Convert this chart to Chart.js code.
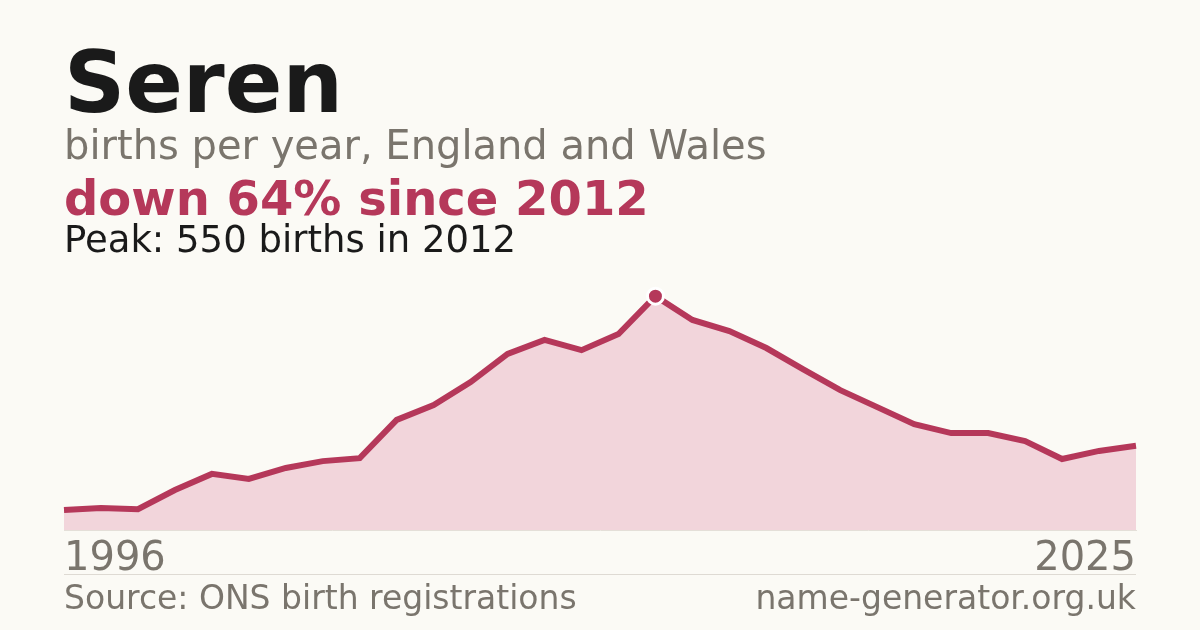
<!DOCTYPE html>
<html lang="en">
<head>
    <meta charset="UTF-8">
    <title>Seren - births per year</title>
    <script src="https://cdn.jsdelivr.net/npm/chart.js@4.4.0/dist/chart.umd.min.js"></script>
    <style>
        html, body { margin: 0; padding: 0; }
        body {
            width: 1200px; height: 630px; position: relative; overflow: hidden;
            background: #fbfaf5; font-family: "DejaVu Sans", sans-serif;
        }
        .txt { position: absolute; left: 64px; line-height: 1; white-space: nowrap; }
        #title { top: 40px; font-size: 85px; font-weight: bold; color: #1a1a1a; }
        #sub { top: 125px; font-size: 40px; color: #7a756d; }
        #change { top: 174px; font-size: 48px; font-weight: bold; color: #b5385a; }
        #peak { top: 221px; font-size: 37px; color: #1a1a1a; }
        .year { top: 536px; font-size: 40px; color: #7a756d; }
        #yEnd, #site { left: auto; right: 64px; }
        .foot { top: 581px; font-size: 33px; color: #7a756d; }
        #rule { position: absolute; left: 64px; width: 1072px; top: 574px; height: 1px; background: #dedad3; }
        #chartBox { position: absolute; left: 0; top: 0; width: 1200px; height: 630px; }
    </style>
</head>
<body>
    <div id="chartBox"><canvas id="birthChart"></canvas></div>
    <div class="txt" id="title">Seren</div>
    <div class="txt" id="sub">births per year, England and Wales</div>
    <div class="txt" id="change">down 64% since 2012</div>
    <div class="txt" id="peak">Peak: 550 births in 2012</div>
    <div class="txt year" id="yStart">1996</div>
    <div class="txt year" id="yEnd">2025</div>
    <div id="rule"></div>
    <div class="txt foot" id="source">Source: ONS birth registrations</div>
    <div class="txt foot" id="site">name-generator.org.uk</div>

    <script>
        // Births per year
        const years = [1996, 1997, 1998, 1999, 2000, 2001, 2002, 2003, 2004, 2005,
                       2006, 2007, 2008, 2009, 2010, 2011, 2012, 2013, 2014, 2015,
                       2016, 2017, 2018, 2019, 2020, 2021, 2022, 2023, 2024, 2025];
        const births = [47, 52, 49, 94, 132, 120, 146, 162, 169, 259,
                        294, 348, 414, 447, 423, 461, 550, 494, 468, 428,
                        378, 329, 289, 249, 228, 228, 209, 167, 186, 198];

        const red = '#b5385a';
        const peakIndex = births.indexOf(Math.max(...births));

        const ctx = document.getElementById('birthChart').getContext('2d');
        new Chart(ctx, {
            type: 'line',
            data: {
                labels: years,
                datasets: [{
                    data: births,
                    borderColor: red,
                    borderWidth: 6,
                    backgroundColor: '#f2d5db',
                    fill: 'origin',
                    tension: 0,
                    clip: false,
                    pointRadius: c => c.dataIndex === peakIndex ? 8 : 0,
                    pointBackgroundColor: red,
                    pointBorderColor: '#ffffff',
                    pointBorderWidth: 3
                }]
            },
            options: {
                responsive: true,
                maintainAspectRatio: false,
                animation: false,
                layout: { padding: { left: 64, right: 64, top: 280, bottom: 100 } },
                plugins: { legend: { display: false }, tooltip: { enabled: false } },
                scales: {
                    x: {
                        offset: false,
                        ticks: { display: false },
                        grid: { display: false, drawTicks: false },
                        border: { display: true, color: '#e4dfd8', width: 1 }
                    },
                    y: {
                        display: false,
                        min: 0,
                        max: 588
                    }
                }
            }
        });
    </script>
</body>
</html>
